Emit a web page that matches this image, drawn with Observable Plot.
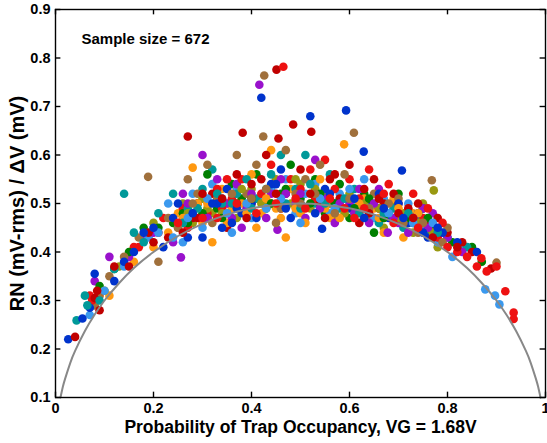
<!DOCTYPE html>
<html><head><meta charset="utf-8">
<script src="https://cdn.jsdelivr.net/npm/d3@7"></script>
<script src="https://cdn.jsdelivr.net/npm/@observablehq/plot@0.6"></script>
<style>
body{margin:0;background:#fff;}
svg{font-family:"Liberation Sans",Arial,sans-serif;}
</style></head><body><div id="chart"></div>
<script>
const xTicks = [0, 0.2, 0.4, 0.6, 0.8, 1];
const yTicks = [0.1, 0.2, 0.3, 0.4, 0.5, 0.6, 0.7, 0.8, 0.9];
const xTitle = "Probability of Trap Occupancy, VG = 1.68V";
const yTitle = "RN (mV-rms) / \u0394V (mV)";
const note = "Sample size = 672";

const curveX = [0.0102,0.015,0.02,0.03,0.04,0.06,0.08,0.1,0.13,0.16,0.2,0.25,0.3,0.35,0.4,0.45,0.5,0.55,0.6,0.65,0.7,0.75,0.8,0.84,0.87,0.9,0.92,0.94,0.96,0.97,0.98,0.985,0.9898];
const curveY = [0.1,0.122,0.14,0.171,0.196,0.237,0.271,0.3,0.336,0.367,0.4,0.433,0.458,0.477,0.49,0.497,0.5,0.497,0.49,0.477,0.458,0.433,0.4,0.367,0.336,0.3,0.271,0.237,0.196,0.171,0.14,0.122,0.1];

const red = [[0.07,0.31],[0.075,0.30],[0.16,0.41],[0.17,0.41],[0.21,0.44],[0.22,0.47],[0.26,0.49],[0.27,0.45],[0.29,0.5],[0.31,0.48],[0.33,0.53],[0.34,0.49],[0.36,0.51],[0.38,0.55],[0.40,0.5],[0.42,0.52],[0.44,0.58],[0.46,0.49],[0.465,0.782],[0.48,0.55],[0.5,0.53],[0.52,0.57],[0.53,0.51],[0.55,0.59],[0.57,0.53],[0.6,0.55],[0.62,0.51],[0.64,0.57],[0.66,0.49],[0.68,0.54],[0.7,0.5],[0.71,0.47],[0.73,0.52],[0.75,0.47],[0.77,0.44],[0.78,0.43],[0.79,0.46],[0.82,0.4],[0.84,0.39],[0.86,0.37],[0.869,0.387],[0.9,0.37],[0.918,0.319],[0.935,0.275],[0.935,0.262],[0.88,0.36],[0.3,0.47],[0.45,0.5],
  [0.25,0.46],[0.33,0.47],[0.37,0.5],[0.41,0.48],[0.49,0.51],[0.51,0.49],[0.56,0.51],[0.59,0.49],[0.61,0.47],[0.63,0.49],[0.67,0.52],[0.69,0.46],[0.74,0.45],[0.76,0.49],[0.8,0.41],[0.35,0.55]];
const darkred = [[0.04,0.225],[0.08,0.305],[0.09,0.28],[0.085,0.32],[0.12,0.37],[0.15,0.37],[0.19,0.44],[0.2,0.42],[0.23,0.43],[0.27,0.638],[0.28,0.47],[0.32,0.52],[0.35,0.45],[0.382,0.646],[0.4,0.54],[0.43,0.6],[0.451,0.776],[0.455,0.634],[0.47,0.52],[0.485,0.663],[0.5,0.57],[0.522,0.648],[0.54,0.5],[0.56,0.55],[0.58,0.51],[0.6,0.58],[0.63,0.53],[0.65,0.55],[0.67,0.5],[0.69,0.52],[0.72,0.49],[0.74,0.5],[0.76,0.46],[0.78,0.47],[0.8,0.44],[0.83,0.42],[0.85,0.4],[0.889,0.366],[0.3,0.52],[0.37,0.56],[0.62,0.46],
  [0.26,0.44],[0.29,0.47],[0.34,0.51],[0.39,0.47],[0.42,0.55],[0.45,0.52],[0.52,0.52],[0.55,0.47],[0.57,0.56],[0.64,0.48],[0.66,0.51],[0.7,0.48],[0.73,0.47],[0.77,0.43],[0.82,0.41]];
const blue = [[0.026,0.22],[0.055,0.263],[0.07,0.285],[0.08,0.355],[0.12,0.34],[0.14,0.38],[0.16,0.4],[0.2,0.45],[0.22,0.41],[0.25,0.5],[0.27,0.43],[0.3,0.43],[0.31,0.47],[0.33,0.5],[0.35,0.53],[0.38,0.48],[0.4,0.5],[0.42,0.718],[0.44,0.54],[0.46,0.57],[0.48,0.47],[0.5,0.5],[0.52,0.68],[0.544,0.448],[0.55,0.53],[0.57,0.5],[0.593,0.692],[0.6,0.49],[0.629,0.607],[0.64,0.5],[0.66,0.52],[0.68,0.47],[0.7,0.5],[0.707,0.568],[0.72,0.46],[0.74,0.48],[0.76,0.43],[0.79,0.44],[0.82,0.42],[0.86,0.4],[0.18,0.44],[0.36,0.46],
  [0.24,0.47],[0.28,0.48],[0.32,0.5],[0.37,0.49],[0.41,0.47],[0.45,0.54],[0.47,0.49],[0.53,0.48],[0.56,0.52],[0.61,0.51],[0.63,0.47],[0.67,0.49],[0.71,0.47],[0.75,0.44],[0.78,0.45],[0.34,0.45]];
const lightblue = [[0.07,0.27],[0.1,0.32],[0.14,0.37],[0.19,0.43],[0.21,0.44],[0.26,0.42],[0.28,0.52],[0.3,0.45],[0.32,0.54],[0.34,0.51],[0.37,0.53],[0.4,0.47],[0.42,0.51],[0.44,0.53],[0.47,0.55],[0.49,0.48],[0.51,0.52],[0.53,0.54],[0.56,0.48],[0.58,0.52],[0.61,0.5],[0.63,0.55],[0.65,0.47],[0.67,0.51],[0.7,0.47],[0.72,0.5],[0.75,0.45],[0.78,0.42],[0.81,0.39],[0.83,0.41],[0.877,0.323],[0.897,0.31],[0.906,0.292],[0.24,0.43],[0.23,0.5],
  [0.27,0.47],[0.31,0.51],[0.35,0.48],[0.39,0.5],[0.43,0.49],[0.46,0.51],[0.5,0.46],[0.54,0.51],[0.57,0.49],[0.6,0.53],[0.64,0.49],[0.68,0.48],[0.73,0.46],[0.77,0.46],[0.36,0.44]];
const teal = [[0.043,0.259],[0.06,0.31],[0.065,0.29],[0.12,0.365],[0.16,0.44],[0.18,0.42],[0.21,0.48],[0.24,0.52],[0.27,0.49],[0.3,0.53],[0.32,0.57],[0.34,0.5],[0.37,0.52],[0.39,0.55],[0.41,0.51],[0.44,0.56],[0.46,0.6],[0.49,0.53],[0.51,0.6],[0.53,0.5],[0.56,0.56],[0.58,0.49],[0.61,0.53],[0.64,0.5],[0.66,0.46],[0.69,0.49],[0.71,0.45],[0.74,0.47],[0.76,0.44],[0.8,0.43],[0.84,0.41],[0.14,0.52],[0.09,0.3],
  [0.26,0.46],[0.29,0.49],[0.33,0.52],[0.36,0.5],[0.4,0.49],[0.43,0.53],[0.47,0.5],[0.5,0.49],[0.52,0.54],[0.55,0.5],[0.59,0.51],[0.62,0.48],[0.67,0.48],[0.72,0.48],[0.78,0.44]];
const green = [[0.09,0.33],[0.12,0.365],[0.15,0.4],[0.18,0.45],[0.21,0.45],[0.24,0.46],[0.26,0.48],[0.29,0.5],[0.33,0.49],[0.36,0.54],[0.38,0.51],[0.41,0.56],[0.43,0.49],[0.46,0.52],[0.48,0.58],[0.5,0.51],[0.53,0.55],[0.55,0.48],[0.58,0.54],[0.6,0.47],[0.63,0.52],[0.65,0.44],[0.68,0.48],[0.7,0.52],[0.73,0.46],[0.75,0.49],[0.77,0.45],[0.81,0.42],[0.85,0.41],[0.87,0.38],[0.31,0.56],
  [0.27,0.46],[0.3,0.48],[0.34,0.47],[0.37,0.5],[0.4,0.51],[0.44,0.5],[0.47,0.53],[0.52,0.5],[0.54,0.52],[0.57,0.5],[0.61,0.49],[0.64,0.51],[0.67,0.47],[0.72,0.47],[0.76,0.47]];
const olive = [[0.1,0.32],[0.13,0.37],[0.2,0.46],[0.26,0.5],[0.28,0.46],[0.32,0.48],[0.35,0.5],[0.37,0.47],[0.4,0.53],[0.43,0.5],[0.45,0.55],[0.48,0.5],[0.5,0.54],[0.52,0.49],[0.55,0.52],[0.57,0.47],[0.6,0.52],[0.62,0.49],[0.64,0.47],[0.67,0.45],[0.69,0.5],[0.71,0.48],[0.73,0.44],[0.75,0.5],[0.772,0.527],[0.78,0.41],[0.3,0.51],
  [0.27,0.48],[0.31,0.49],[0.34,0.48],[0.38,0.53],[0.42,0.5],[0.46,0.5],[0.49,0.55],[0.53,0.53],[0.56,0.5],[0.59,0.48],[0.63,0.5],[0.66,0.49],[0.7,0.47],[0.74,0.46],[0.77,0.44]];
const brown = [[0.08,0.29],[0.09,0.31],[0.11,0.35],[0.14,0.39],[0.17,0.43],[0.189,0.555],[0.21,0.38],[0.23,0.47],[0.25,0.45],[0.27,0.55],[0.29,0.52],[0.31,0.58],[0.33,0.51],[0.35,0.48],[0.37,0.6],[0.39,0.52],[0.41,0.58],[0.426,0.764],[0.424,0.638],[0.44,0.5],[0.47,0.61],[0.49,0.52],[0.51,0.55],[0.54,0.58],[0.56,0.5],[0.59,0.56],[0.609,0.646],[0.62,0.5],[0.65,0.52],[0.67,0.47],[0.7,0.51],[0.72,0.47],[0.74,0.44],[0.768,0.548],[0.77,0.43],[0.8,0.45],[0.9,0.378],[0.45,0.46],[0.25,0.45],
  [0.28,0.5],[0.32,0.46],[0.36,0.52],[0.4,0.51],[0.43,0.53],[0.46,0.49],[0.5,0.5],[0.53,0.52],[0.57,0.48],[0.6,0.51],[0.64,0.49],[0.68,0.5],[0.71,0.46],[0.75,0.46],[0.79,0.42]];
const purple = [[0.08,0.34],[0.11,0.39],[0.15,0.39],[0.18,0.43],[0.2,0.44],[0.256,0.389],[0.26,0.52],[0.28,0.48],[0.3,0.6],[0.33,0.55],[0.35,0.5],[0.37,0.54],[0.39,0.49],[0.416,0.745],[0.453,0.446],[0.44,0.52],[0.46,0.55],[0.49,0.5],[0.51,0.47],[0.53,0.59],[0.55,0.51],[0.57,0.46],[0.6,0.5],[0.62,0.53],[0.64,0.46],[0.66,0.53],[0.678,0.44],[0.7,0.46],[0.72,0.44],[0.75,0.49],[0.77,0.48],[0.8,0.43],[0.83,0.4],[0.24,0.42],
  [0.27,0.5],[0.31,0.47],[0.36,0.47],[0.4,0.52],[0.43,0.47],[0.47,0.52],[0.5,0.52],[0.54,0.49],[0.58,0.5],[0.61,0.48],[0.65,0.5],[0.69,0.47],[0.73,0.47],[0.76,0.45],[0.38,0.45]];
const orange = [[0.11,0.31],[0.16,0.38],[0.2,0.41],[0.23,0.44],[0.25,0.48],[0.28,0.574],[0.32,0.42],[0.3,0.46],[0.34,0.53],[0.36,0.49],[0.38,0.5],[0.4,0.56],[0.42,0.48],[0.44,0.61],[0.46,0.47],[0.48,0.53],[0.5,0.48],[0.52,0.5],[0.54,0.55],[0.56,0.47],[0.589,0.622],[0.61,0.48],[0.63,0.51],[0.65,0.49],[0.67,0.44],[0.69,0.51],[0.71,0.43],[0.73,0.48],[0.29,0.5],[0.47,0.43],
  [0.26,0.47],[0.31,0.5],[0.35,0.46],[0.39,0.48],[0.43,0.51],[0.45,0.49],[0.49,0.49],[0.51,0.46],[0.55,0.49],[0.58,0.47],[0.62,0.5],[0.66,0.47],[0.7,0.49],[0.74,0.48],[0.41,0.45]];

const groups = [
  [red, "#ee1111"], [blue, "#0033cc"], [brown, "#a0703c"], [teal, "#009999"],
  [purple, "#9911cc"], [darkred, "#c00000"], [green, "#007f00"], [orange, "#ff9911"],
  [lightblue, "#3b99ee"], [olive, "#999911"]
];
const points = [];
const maxLen = d3.max(groups, g => g[0].length);
for (let i = 0; i < maxLen; i++) {
  for (const [arr, col] of groups) {
    if (i < arr.length) points.push({x: arr[i][0], y: arr[i][1], c: col});
  }
}
const curve = curveX.map((x, i) => ({x, y: curveY[i]}));

const chart = Plot.plot({
  width: 547, height: 443,
  marginLeft: 55, marginRight: 2, marginTop: 9, marginBottom: 46,
  x: {domain: [0, 1]},
  y: {domain: [0.1, 0.9]},
  color: {type: "identity"},
  style: {fontFamily: "Liberation Sans, Arial, sans-serif", fontWeight: "bold", fontSize: "14px", color: "#000", background: "#fff"},
  marks: [
    Plot.dot(points, {x: "x", y: "y", fill: "c", r: 4.3, stroke: "none"}),
    Plot.line(curve, {x: "x", y: "y", stroke: "#888888", strokeWidth: 2, curve: "natural"}),
    Plot.frame({stroke: "#000", strokeWidth: 1.4}),
    Plot.ruleX(xTicks, {x: d => d, y1: 0.1, y2: 0.111, stroke: "#000", strokeWidth: 1.4}),
    Plot.ruleX(xTicks, {x: d => d, y1: 0.9, y2: 0.889, stroke: "#000", strokeWidth: 1.4}),
    Plot.ruleY(yTicks, {y: d => d, x1: 0, x2: 0.011, stroke: "#000", strokeWidth: 1.4}),
    Plot.ruleY(yTicks, {y: d => d, x1: 1, x2: 0.989, stroke: "#000", strokeWidth: 1.4}),
    Plot.axisX(xTicks, {tickSize: 0, tickPadding: 5, tickFormat: d => d === 0 ? "0" : d === 1 ? "1" : d.toFixed(1), label: null, fontSize: 14.5}),
    Plot.axisY(yTicks, {tickSize: 0, tickPadding: 5, tickFormat: d => d.toFixed(1), label: null, fontSize: 14.5}),
    Plot.text([xTitle], {frameAnchor: "bottom", dy: 35, fontSize: 17.5, fontWeight: "bold", text: d => d}),
    Plot.text([yTitle], {frameAnchor: "left", dx: -38, rotate: -90, textAnchor: "middle", fontSize: 20, fontWeight: "bold", text: d => d}),
    Plot.text([note], {frameAnchor: "top-left", dx: 26, dy: 24, fontSize: 15, fontWeight: "bold", textAnchor: "start", text: d => d})
  ]
});
document.getElementById("chart").appendChild(chart);
</script></body></html>
